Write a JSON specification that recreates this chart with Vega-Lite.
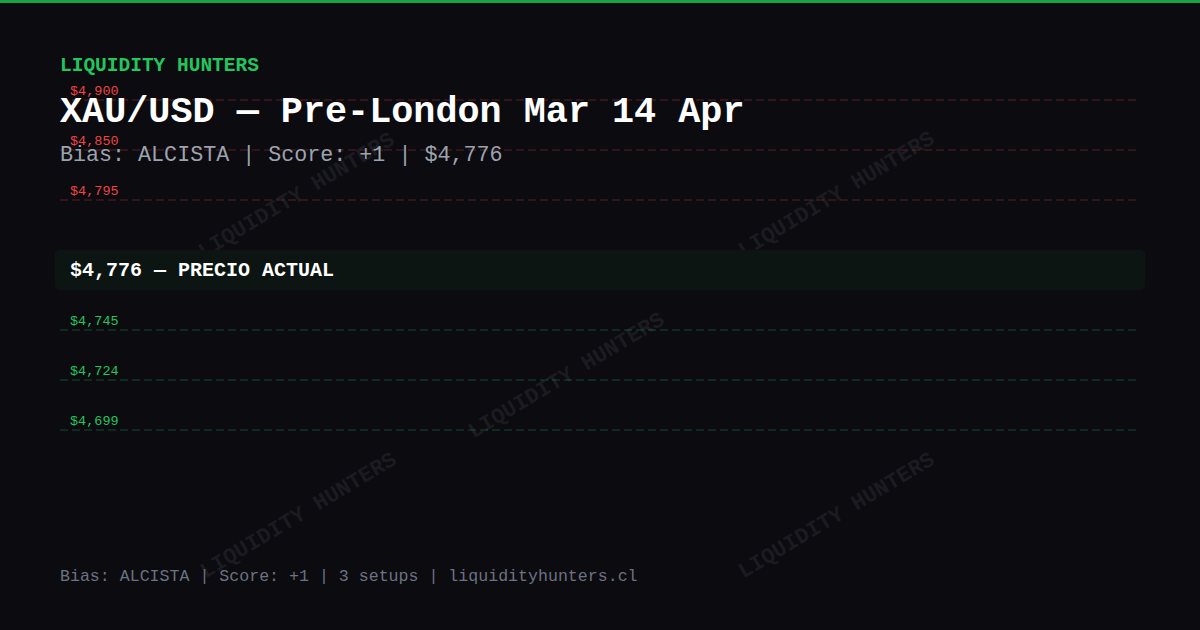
{
  "$schema": "https://vega.github.io/schema/vega-lite/v6.json",
  "width": 1200,
  "height": 630,
  "autosize": {"type": "fit", "contains": "padding"},
  "padding": 0,
  "background": "#0b0b10",
  "config": {
    "view": {"stroke": null},
    "font": "Liberation Mono",
    "text": {"font": "Liberation Mono"}
  },
  "datasets": {
    "levels": [
      {"price": "$4,900", "kind": "resistencia", "pos": 100},
      {"price": "$4,850", "kind": "resistencia", "pos": 150},
      {"price": "$4,795", "kind": "resistencia", "pos": 200},
      {"price": "$4,745", "kind": "soporte", "pos": 330},
      {"price": "$4,724", "kind": "soporte", "pos": 380},
      {"price": "$4,699", "kind": "soporte", "pos": 430}
    ],
    "watermarks": [
      {"label": "LIQUIDITY HUNTERS", "cx": 296, "cy": 195},
      {"label": "LIQUIDITY HUNTERS", "cx": 836, "cy": 194},
      {"label": "LIQUIDITY HUNTERS", "cx": 566, "cy": 375},
      {"label": "LIQUIDITY HUNTERS", "cx": 298, "cy": 515},
      {"label": "LIQUIDITY HUNTERS", "cx": 836, "cy": 515}
    ],
    "current": [
      {"label": "$4,776 — PRECIO ACTUAL", "top": 250, "bottom": 290, "pos": 276}
    ]
  },
  "encoding": {
    "x": {"type": "quantitative", "scale": {"domain": [0, 1200], "nice": false, "zero": false}, "axis": null},
    "y": {"type": "quantitative", "scale": {"domain": [0, 630], "nice": false, "zero": false, "reverse": true}, "axis": null}
  },
  "layer": [
    {
      "data": {"values": [{"band": "top"}]},
      "mark": {"type": "rect", "color": "#16a34a"},
      "encoding": {
        "x": {"datum": 0}, "x2": {"datum": 1200},
        "y": {"datum": 0}, "y2": {"datum": 3}
      }
    },
    {
      "data": {"name": "watermarks"},
      "mark": {"type": "text", "fontSize": 22, "fontWeight": "bold", "angle": -31, "align": "center", "baseline": "middle", "color": "#1b1b21"},
      "encoding": {
        "x": {"field": "cx"},
        "y": {"field": "cy"},
        "text": {"field": "label"}
      }
    },
    {
      "data": {"name": "levels"},
      "mark": {"type": "rule", "strokeDash": [8, 4], "strokeWidth": 1.2, "opacity": 0.35},
      "encoding": {
        "x": {"datum": 60}, "x2": {"datum": 1136},
        "y": {"field": "pos"},
        "color": {"field": "kind", "type": "nominal", "scale": {"domain": ["resistencia", "soporte"], "range": ["#ef4444", "#22c55e"]}, "legend": null}
      }
    },
    {
      "data": {"name": "levels"},
      "mark": {"type": "text", "fontSize": 13.5, "align": "left", "baseline": "alphabetic", "dy": -5},
      "encoding": {
        "x": {"datum": 70},
        "y": {"field": "pos"},
        "text": {"field": "price"},
        "color": {"field": "kind", "type": "nominal", "legend": null}
      }
    },
    {
      "data": {"name": "current"},
      "mark": {"type": "rect", "color": "#0c1512", "cornerRadius": 4},
      "encoding": {
        "x": {"datum": 55}, "x2": {"datum": 1145},
        "y": {"field": "top"}, "y2": {"field": "bottom"}
      }
    },
    {
      "data": {"name": "current"},
      "mark": {"type": "text", "fontSize": 20, "fontWeight": "bold", "align": "left", "baseline": "alphabetic", "color": "#ffffff"},
      "encoding": {
        "x": {"datum": 70},
        "y": {"field": "pos"},
        "text": {"field": "label"}
      }
    },
    {
      "data": {"values": [{"label": "LIQUIDITY HUNTERS"}]},
      "mark": {"type": "text", "fontSize": 19.5, "fontWeight": "bold", "align": "left", "baseline": "alphabetic", "color": "#22c55e"},
      "encoding": {"x": {"datum": 60}, "y": {"datum": 71}, "text": {"field": "label"}}
    },
    {
      "data": {"values": [{"label": "XAU/USD — Pre-London Mar 14 Apr"}]},
      "mark": {"type": "text", "fontSize": 36.8, "fontWeight": "bold", "align": "left", "baseline": "alphabetic", "color": "#ffffff"},
      "encoding": {"x": {"datum": 60}, "y": {"datum": 122}, "text": {"field": "label"}}
    },
    {
      "data": {"values": [{"label": "Bias: ALCISTA | Score: +1 | $4,776"}]},
      "mark": {"type": "text", "fontSize": 21.7, "align": "left", "baseline": "alphabetic", "color": "#9ca3af"},
      "encoding": {"x": {"datum": 60}, "y": {"datum": 161}, "text": {"field": "label"}}
    },
    {
      "data": {"values": [{"label": "Bias: ALCISTA | Score: +1 | 3 setups | liquidityhunters.cl"}]},
      "mark": {"type": "text", "fontSize": 16.6, "align": "left", "baseline": "alphabetic", "color": "#6b7280"},
      "encoding": {"x": {"datum": 60}, "y": {"datum": 581}, "text": {"field": "label"}}
    }
  ]
}
